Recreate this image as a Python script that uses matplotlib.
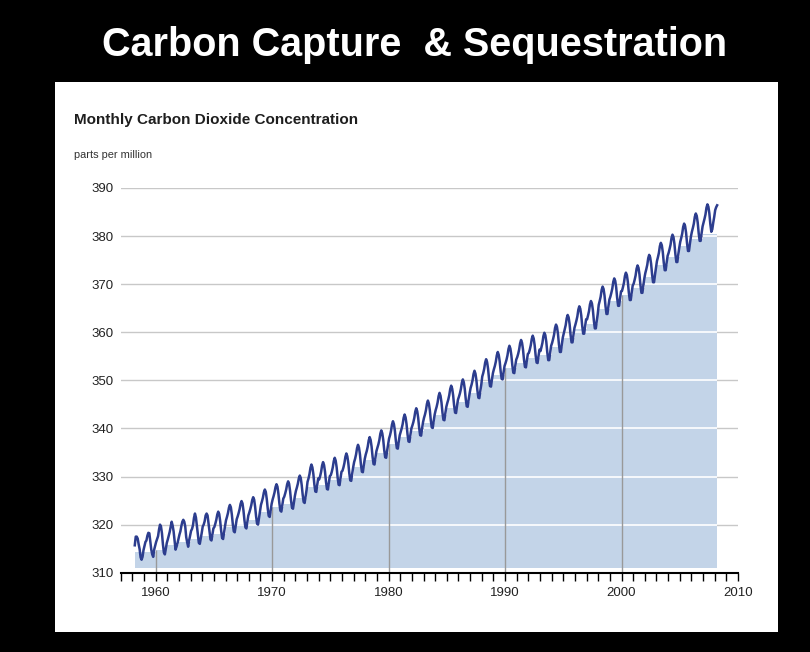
import numpy as np
import matplotlib
matplotlib.use('Agg')
import matplotlib.pyplot as plt
from matplotlib.ticker import MultipleLocator

# monthly CO2 at Mauna Loa, ppm (rows run Jan..Dec)
co2_1958 = [315.7, 317.5, 317.5, 317.1, 315.9, 314.9, 313.2, 312.7, 313.3, 314.7]  # Mar..Dec
co2_1960s = [
    [315.6, 316.4, 316.7, 317.7, 318.3, 318.2, 316.5, 314.8, 313.8, 313.3, 314.8, 315.6],
    [316.4, 317.0, 317.6, 319.0, 320.0, 319.6, 318.2, 315.9, 314.2, 313.8, 315.0, 316.2],
    [316.9, 317.7, 318.5, 319.5, 320.6, 319.8, 318.6, 316.8, 314.8, 315.4, 316.1, 317.0],
    [317.9, 318.6, 319.7, 320.6, 321.0, 320.6, 319.6, 317.4, 316.3, 315.4, 316.7, 317.7],
    [318.7, 319.1, 319.9, 321.4, 322.3, 321.5, 319.7, 317.8, 316.2, 316.0, 317.1, 318.3],
    [319.6, 320.0, 320.7, 321.9, 322.3, 321.9, 320.3, 318.6, 316.9, 316.7, 318.0, 319.2],
    [319.5, 320.2, 321.0, 322.1, 322.7, 322.2, 320.7, 318.7, 317.2, 317.0, 318.4, 319.7],
    [320.9, 321.6, 322.4, 323.5, 324.1, 323.6, 322.1, 320.1, 318.6, 318.4, 319.8, 321.1],
    [321.7, 322.4, 323.2, 324.3, 324.9, 324.4, 322.9, 320.9, 319.4, 319.2, 320.6, 321.9],
    [322.5, 323.2, 324.0, 325.1, 325.7, 325.2, 323.7, 321.7, 320.2, 320.0, 321.4, 322.7],
    [324.1, 324.8, 325.6, 326.7, 327.3, 326.8, 325.3, 323.3, 321.8, 321.6, 323.0, 324.3],
]  # 1959..1969
co2_1970s = [
    [325.2, 325.9, 326.7, 327.8, 328.4, 327.9, 326.4, 324.4, 322.9, 322.7, 324.1, 325.4],
    [325.8, 326.5, 327.3, 328.4, 329.0, 328.5, 327.0, 325.0, 323.5, 323.3, 324.7, 326.0],
    [327.0, 327.7, 328.5, 329.6, 330.2, 329.7, 328.2, 326.2, 324.7, 324.5, 325.9, 327.2],
    [328.9, 329.6, 330.5, 331.8, 332.5, 331.9, 330.5, 328.4, 326.9, 326.8, 328.3, 329.6],
    [329.4, 330.1, 331.0, 332.3, 333.0, 332.4, 331.0, 328.9, 327.4, 327.3, 328.8, 330.1],
    [330.3, 331.0, 331.9, 333.2, 333.9, 333.3, 331.9, 329.8, 328.3, 328.2, 329.7, 331.0],
    [331.2, 331.9, 332.8, 334.1, 334.8, 334.2, 332.8, 330.7, 329.2, 329.1, 330.6, 331.9],
    [333.0, 333.7, 334.6, 335.9, 336.6, 336.0, 334.6, 332.5, 331.0, 330.9, 332.4, 333.7],
    [334.6, 335.3, 336.2, 337.5, 338.2, 337.6, 336.2, 334.1, 332.6, 332.5, 334.0, 335.3],
    [336.0, 336.7, 337.6, 338.9, 339.6, 339.0, 337.6, 335.5, 334.0, 333.9, 335.4, 336.7],
]
co2_1980s = [
    [337.9, 338.6, 339.5, 340.8, 341.5, 340.9, 339.5, 337.4, 335.9, 335.8, 337.3, 338.6],
    [339.3, 340.0, 340.9, 342.2, 342.9, 342.3, 340.9, 338.8, 337.3, 337.2, 338.7, 340.0],
    [340.6, 341.3, 342.2, 343.5, 344.2, 343.6, 342.2, 340.1, 338.6, 338.5, 340.0, 341.3],
    [342.2, 342.9, 343.8, 345.1, 345.8, 345.2, 343.8, 341.7, 340.2, 340.1, 341.6, 342.9],
    [343.8, 344.5, 345.4, 346.7, 347.4, 346.8, 345.4, 343.3, 341.8, 341.7, 343.2, 344.5],
    [345.3, 346.0, 346.9, 348.2, 348.9, 348.3, 346.9, 344.8, 343.3, 343.2, 344.7, 346.0],
    [346.6, 347.3, 348.2, 349.5, 350.2, 349.6, 348.2, 346.1, 344.6, 344.5, 346.0, 347.3],
    [348.4, 349.1, 350.0, 351.3, 352.0, 351.4, 350.0, 347.9, 346.4, 346.3, 347.8, 349.1],
    [350.8, 351.5, 352.4, 353.7, 354.4, 353.8, 352.4, 350.3, 348.8, 348.7, 350.2, 351.5],
    [352.3, 353.0, 353.9, 355.2, 355.9, 355.3, 353.9, 351.8, 350.3, 350.2, 351.7, 353.0],
]
co2_1990s = [
    [353.6, 354.3, 355.2, 356.5, 357.2, 356.6, 355.2, 353.1, 351.6, 351.5, 353.0, 354.3],
    [354.8, 355.5, 356.4, 357.7, 358.4, 357.8, 356.4, 354.3, 352.8, 352.7, 354.2, 355.5],
    [355.7, 356.4, 357.3, 358.6, 359.3, 358.7, 357.3, 355.2, 353.7, 353.6, 355.1, 356.4],
    [356.1, 356.9, 357.8, 359.2, 359.9, 359.4, 358.0, 355.8, 354.2, 354.2, 355.8, 357.2],
    [357.8, 358.6, 359.5, 360.9, 361.6, 361.1, 359.7, 357.5, 355.9, 355.9, 357.5, 358.9],
    [359.8, 360.6, 361.5, 362.9, 363.6, 363.1, 361.7, 359.5, 357.9, 357.9, 359.5, 360.9],
    [361.6, 362.4, 363.3, 364.7, 365.4, 364.9, 363.5, 361.3, 359.7, 359.7, 361.3, 362.7],
    [362.7, 363.5, 364.4, 365.8, 366.5, 366.0, 364.6, 362.4, 360.8, 360.8, 362.4, 363.8],
    [365.7, 366.5, 367.4, 368.8, 369.5, 369.0, 367.6, 365.4, 363.8, 363.8, 365.4, 366.8],
    [367.4, 368.2, 369.1, 370.5, 371.2, 370.7, 369.3, 367.1, 365.5, 365.5, 367.1, 368.5],
]
co2_2000s = [
    [368.6, 369.4, 370.3, 371.7, 372.4, 371.9, 370.5, 368.3, 366.7, 366.7, 368.3, 369.7],
    [370.1, 370.9, 371.8, 373.2, 373.9, 373.4, 372.0, 369.8, 368.2, 368.2, 369.8, 371.2],
    [372.3, 373.1, 374.0, 375.4, 376.1, 375.6, 374.2, 372.0, 370.4, 370.4, 372.0, 373.4],
    [374.8, 375.6, 376.5, 377.9, 378.6, 378.1, 376.7, 374.5, 372.9, 372.9, 374.5, 375.9],
    [376.5, 377.3, 378.2, 379.6, 380.3, 379.8, 378.4, 376.2, 374.6, 374.6, 376.2, 377.6],
    [378.8, 379.6, 380.5, 381.9, 382.6, 382.1, 380.7, 378.5, 376.9, 376.9, 378.5, 379.9],
    [380.9, 381.7, 382.6, 384.0, 384.7, 384.2, 382.8, 380.6, 379.0, 379.0, 380.6, 382.0],
    [382.8, 383.6, 384.5, 385.9, 386.6, 386.1, 384.7, 382.5, 380.9, 381.4, 382.8, 384.0],
]
co2_2008 = [385.4, 386.0, 386.4]  # Jan..Mar

# shaded band under the curve, one level per calendar year 1958..2008
band_years = list(range(1958, 2009))
band_top = [314.4, 314.3, 314.8, 315.8, 316.4, 317.0, 317.7, 318.0, 319.4, 320.2,
            321.0, 322.6, 323.7, 324.3, 325.5, 327.8, 328.3, 329.2, 330.1, 331.9,
            333.5, 334.9, 336.8, 338.2, 339.5, 341.1, 342.7, 344.2, 345.5, 347.3,
            349.7, 351.2, 352.5, 353.7, 354.6, 355.2, 356.9, 358.9, 360.7, 361.8,
            364.8, 366.5, 367.7, 369.2, 371.4, 373.9, 375.6, 377.9, 379.3, 380.4,
            380.4]
band_floor = 311.0

decades = [1960, 1970, 1980, 1990, 2000, 2010]
y_ticks = [310, 320, 330, 340, 350, 360, 370, 380, 390]

# flatten the monthly table into a time series
ppm = list(co2_1958)
for block in (co2_1960s, co2_1970s, co2_1980s, co2_1990s, co2_2000s):
    for row in block:
        ppm += row
ppm += co2_2008
ppm = np.array(ppm)
t = 1958 + (np.arange(len(ppm)) + 2 + 0.5) / 12.0   # first value is March 1958

fig = plt.figure(figsize=(8.1, 6.52), dpi=100)
fig.patch.set_facecolor('black')

fig.text(0.512, 0.931, 'Carbon Capture  & Sequestration', color='white',
         ha='center', va='center', fontsize=28.5, fontweight='bold',
         family='Liberation Sans')

# white card behind the chart
card = plt.Rectangle((55 / 810, 1 - 632 / 652), (778 - 55) / 810, (632 - 82) / 652,
                     transform=fig.transFigure, facecolor='white', edgecolor='none',
                     zorder=-10)
fig.patches.append(card)

fig.text(74 / 810, 1 - 120 / 652, 'Monthly Carbon Dioxide Concentration',
         color='#1e1e1e', fontsize=11, fontweight='bold', family='Liberation Sans',
         va='center')
fig.text(74 / 810, 1 - 155 / 652, 'parts per million',
         color='#333333', fontsize=7.9, family='Liberation Sans', va='center')

ax = fig.add_axes([120.7 / 810, 1 - 572.7 / 652, (738 - 120.7) / 810, (572.7 - 188) / 652])
ax.set_facecolor('none')

# horizontal grid in grey
for yv in y_ticks[1:]:
    ax.axhline(yv, color='#c8c8c8', lw=1.0, zorder=0)

# stepped band
edges = [t[0]] + band_years[1:] + [t[-1]]
levels = band_top + [band_top[-1]]
band = ax.fill_between(edges, band_floor, levels, step='post',
                       color='#c3d4e8', lw=0, zorder=1)
band_path = band.get_paths()[0]

# grid shows white where it crosses the band
white = ax.hlines(y_ticks[1:], 1957, 2010, colors='white', lw=1.2, zorder=2)
white.set_clip_path(band_path, ax.transData)

# decade markers rising out of the axis up to the band top
for d in decades[:-1]:
    top = band_top[band_years.index(d)]
    ax.vlines(d, 310, top, colors='#999999', lw=1.0, zorder=2)

ax.plot(t, ppm, color='#2c3d8e', lw=1.8, zorder=3, solid_joinstyle='round')

ax.set_xlim(1957, 2010)
ax.set_ylim(310, 390)
ax.set_yticks(y_ticks)
ax.set_yticklabels([str(v) for v in y_ticks])
ax.set_xticks(decades)
ax.set_xticklabels([str(v) for v in decades])
ax.xaxis.set_minor_locator(MultipleLocator(1))

for s in ['top', 'right', 'left']:
    ax.spines[s].set_visible(False)
ax.spines['bottom'].set_color('black')
ax.spines['bottom'].set_linewidth(1.5)
ax.spines['bottom'].set_zorder(4)

ax.tick_params(axis='y', length=0, pad=5, labelsize=9.5, labelcolor='#222222')
ax.tick_params(axis='x', which='both', direction='out', length=6, width=1.0,
               color='black', pad=4, labelsize=9.5, labelcolor='#222222')
for lab in ax.get_xticklabels() + ax.get_yticklabels():
    lab.set_family('Liberation Sans')

plt.savefig('out.png', dpi=100, facecolor=fig.get_facecolor())
